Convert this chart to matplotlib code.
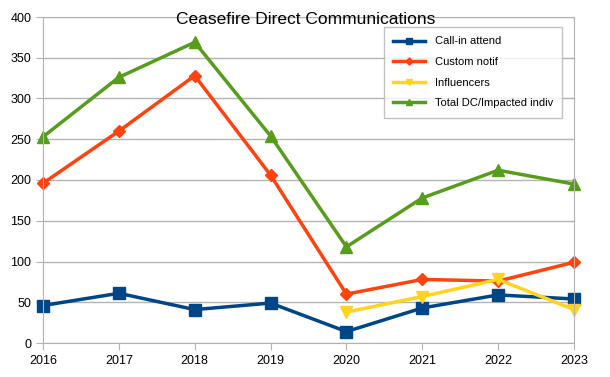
import matplotlib
matplotlib.use("Agg")
from matplotlib import pyplot as plt

plt.rcParams['font.family'] = ['Liberation Sans', 'DejaVu Sans']

years = [2016, 2017, 2018, 2019, 2020, 2021, 2022, 2023]
call_in = [46, 61, 41, 49, 14, 43, 59, 54]
custom_notif = [196, 260, 328, 206, 60, 78, 76, 99]
infl_years = [2020, 2021, 2022, 2023]
influencers = [38, 57, 78, 41]
total_dc = [253, 326, 369, 254, 118, 178, 212, 195]

fig = plt.figure(figsize=(6.1, 3.77), dpi=100)
ax = fig.add_axes([43 / 610, 1 - 343 / 377, (574 - 43) / 610, (343 - 17) / 377])

ax.plot(years, call_in, color='#004586', lw=2.5, marker='s', ms=8, label='Call-in attend')
ax.plot(years, custom_notif, color='#ff420e', lw=2.5, marker='D', ms=6, label='Custom notif')
ax.plot(infl_years, influencers, color='#ffd320', lw=2.5, marker='v', ms=8, label='Influencers')
ax.plot(years, total_dc, color='#579d1c', lw=2.5, marker='^', ms=8, label='Total DC/Impacted indiv')

ax.set_xlim(2016, 2023)
ax.set_ylim(0, 400)
ax.set_xticks(years)
ax.set_yticks(range(0, 401, 50))
ax.grid(axis='y', color='#b3b3b3', lw=1)
ax.set_axisbelow(True)
for s in ax.spines.values():
    s.set_color('#b3b3b3')
ax.tick_params(colors='#b3b3b3', labelcolor='black', labelsize=9, length=5)

# markers on the edges should not be cut off
for line in ax.lines:
    line.set_clip_on(False)

fig.text(306 / 610, 1 - 20 / 377, 'Ceasefire Direct Communications', ha='center', va='center', fontsize=12.5)

leg = ax.legend(loc='upper left', bbox_to_anchor=((384 - 43) / 531, (343 - 27) / 326),
                fontsize=8, frameon=True, fancybox=False, borderpad=0.85,
                labelspacing=0.95, handlelength=2.8, handletextpad=0.9,
                borderaxespad=0, markerscale=0.6)
leg.get_frame().set_edgecolor('#b3b3b3')
leg.get_frame().set_linewidth(1)

fig.savefig('out.png', dpi=100)
